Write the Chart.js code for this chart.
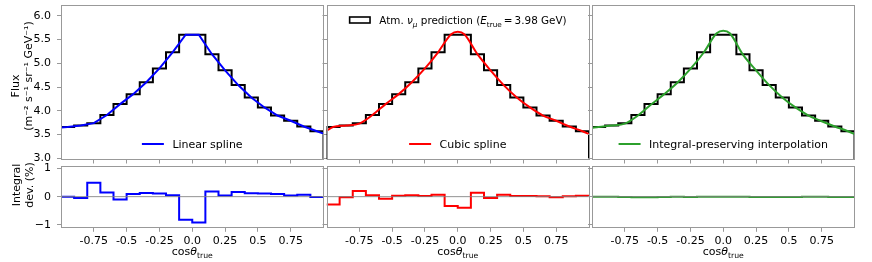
<!DOCTYPE html>
<html>
<head>
<meta charset="utf-8">
<script src="https://cdn.jsdelivr.net/npm/chart.js@4.4.0/dist/chart.umd.min.js"></script>
<style>
  html, body { margin: 0; padding: 0; background: #fff; }
  #wrap { position: relative; width: 872px; height: 262px; overflow: hidden; }
  #wrap canvas { position: absolute; left: 0; top: 0; }
</style>
</head>
<body>
<div id="wrap">
  <canvas id="c0" width="872" height="262"></canvas>
  <canvas id="c1" width="872" height="262"></canvas>
  <canvas id="c2" width="872" height="262"></canvas>
  <canvas id="c3" width="872" height="262"></canvas>
  <canvas id="c4" width="872" height="262"></canvas>
  <canvas id="c5" width="872" height="262"></canvas>
</div>
<script>
// === Data ===
const binEdges = [-1.0, -0.9, -0.8, -0.7, -0.6, -0.5, -0.4, -0.3, -0.2, -0.1, 0.0,
                  0.1, 0.2, 0.3, 0.4, 0.5, 0.6, 0.7, 0.8, 0.9, 1.0];
const fluxHist = [3.66, 3.69, 3.74, 3.91, 4.14, 4.35, 4.60, 4.89, 5.23, 5.60,
                  5.60, 5.19, 4.85, 4.54, 4.28, 4.07, 3.90, 3.79, 3.67, 3.57];

const linX = [-1.0, -0.95, -0.85, -0.75, -0.65, -0.55, -0.45, -0.35, -0.25, -0.15, -0.05,
              0.05, 0.15, 0.25, 0.35, 0.45, 0.55, 0.65, 0.75, 0.85, 0.95, 1.0];
const linFlux = [3.65, 3.66, 3.69, 3.74, 3.91, 4.14, 4.35, 4.60, 4.89, 5.23, 5.60,
                 5.60, 5.19, 4.85, 4.54, 4.28, 4.07, 3.90, 3.79, 3.67, 3.57, 3.52];

const smoothX = [-1.0, -0.95, -0.85, -0.75, -0.65, -0.55, -0.45, -0.35, -0.25, -0.15, -0.05, 0.0,
                 0.05, 0.15, 0.25, 0.35, 0.45, 0.55, 0.65, 0.75, 0.85, 0.95, 1.0];
const cubicFlux = [3.58, 3.66, 3.69, 3.73, 3.91, 4.14, 4.35, 4.60, 4.89, 5.23, 5.61, 5.66,
                   5.61, 5.19, 4.85, 4.54, 4.28, 4.07, 3.90, 3.79, 3.67, 3.57, 3.51];
const integralFlux = [3.64, 3.66, 3.69, 3.73, 3.90, 4.13, 4.35, 4.59, 4.88, 5.22, 5.63, 5.685,
                      5.63, 5.18, 4.85, 4.54, 4.28, 4.07, 3.90, 3.78, 3.67, 3.57, 3.51];

const devLinear = [0.0, -0.05, 0.49, 0.15, -0.10, 0.09, 0.13, 0.11, 0.05, -0.82,
                   -0.91, 0.18, 0.04, 0.16, 0.12, 0.11, 0.09, 0.04, 0.07, -0.01];
const devCubic = [-0.28, -0.02, 0.20, 0.05, -0.07, 0.03, 0.05, 0.02, 0.07, -0.33,
                  -0.39, 0.14, -0.05, 0.07, 0.02, 0.02, 0.01, -0.02, 0.01, 0.03];
const devIntegral = [0.0, 0.0, -0.01, -0.02, -0.02, -0.01, 0.0, -0.01, 0.0, 0.0,
                     0.0, 0.0, -0.01, -0.01, -0.01, -0.01, 0.0, 0.0, -0.01, -0.01];

const xTickVals = [-0.75, -0.5, -0.25, 0.0, 0.25, 0.5, 0.75];
const xTickLabels = ['-0.75', '-0.5', '-0.25', '0.0', '0.25', '0.5', '0.75'];
const fluxTickVals = [3.0, 3.5, 4.0, 4.5, 5.0, 5.5, 6.0];
const fluxTickLabels = ['3.0', '3.5', '4.0', '4.5', '5.0', '5.5', '6.0'];
const devTickVals = [-1, 0, 1];
const devTickLabels = ['\u22121', '0', '1'];

// === Layout ===
const W = 872, H = 262;
const colLeft = [61, 326.5, 592], colW = 262.5;
const topRow = { top: 5, bottom: 159.5, min: 2.975, max: 6.225, vals: fluxTickVals, labels: fluxTickLabels };
const botRow = { top: 165.5, bottom: 227.8, min: -1.1, max: 1.1, vals: devTickVals, labels: devTickLabels };
const AX_W = 40, AX_H = 30;
const FRAME = '#999';
const FONT = '"DejaVu Sans", sans-serif';

Chart.defaults.font.family = FONT;
Chart.defaults.font.size = 11;
Chart.defaults.color = '#000';

// === Helpers ===
const pts = (xs, ys) => xs.map((x, i) => ({ x, y: ys[i] }));
const histPts = (vals, base) => [{ x: binEdges[0], y: base },
  ...vals.map((v, i) => ({ x: binEdges[i], y: v })),
  { x: binEdges[binEdges.length - 1], y: vals[vals.length - 1] },
  { x: binEdges[binEdges.length - 1], y: base }];
const stepPts = vals => [...vals.map((v, i) => ({ x: binEdges[i], y: v })),
  { x: binEdges[binEdges.length - 1], y: vals[vals.length - 1] }];

const segFont = (s, size) => `${s.it ? 'italic ' : ''}${s.sub ? size * 0.7 : size}px ${FONT}`;
function richWidth(ctx, segs, size) {
  let w = 0;
  segs.forEach(s => { ctx.font = segFont(s, size); w += ctx.measureText(s.t).width; });
  return w;
}
function drawRich(ctx, segs, x, y, align, size = 11) {
  let cx = align === 'center' ? x - richWidth(ctx, segs, size) / 2 : x;
  ctx.textAlign = 'left';
  ctx.textBaseline = 'alphabetic';
  segs.forEach(s => {
    ctx.font = segFont(s, size);
    ctx.fillText(s.t, cx, y + (s.sub ? size * 0.28 : 0));
    cx += ctx.measureText(s.t).width;
  });
}

// === Frame, legends and titles ===
const decor = {
  id: 'decor',
  afterDatasetsDraw(chart) {
    const { ctx, chartArea: a } = chart;
    ctx.save();
    ctx.strokeStyle = FRAME;
    ctx.lineWidth = 1;
    ctx.strokeRect(Math.round(a.left) + 0.5, Math.round(a.top) + 0.5,
      Math.round(a.right - a.left) - 1, Math.round(a.bottom - a.top) - 1);
    ctx.restore();
  },
  afterDraw(chart, args, o) {
    const { ctx, chartArea: a } = chart;
    const mid = (a.left + a.right) / 2;
    ctx.save();
    ctx.fillStyle = '#000';
    (o.legends || []).forEach(lg => {
      const size = lg.size || 11;
      const tw = richWidth(ctx, lg.segs, size);
      const x0 = mid - (22 + 8.5 + tw) / 2;
      if (lg.handle === 'box') {
        ctx.strokeStyle = lg.color;
        ctx.lineWidth = 1.6;
        ctx.strokeRect(x0 + 0.8, lg.y - 3, 20.4, 6);
      } else {
        ctx.strokeStyle = lg.color;
        ctx.lineWidth = 2;
        ctx.beginPath();
        ctx.moveTo(x0, lg.y);
        ctx.lineTo(x0 + 22, lg.y);
        ctx.stroke();
      }
      drawRich(ctx, lg.segs, x0 + 30.5, lg.y + 4, 'left', size);
    });
    if (o.xTitle) {
      drawRich(ctx, [{ t: 'cos' }, { t: '\u03b8', it: true }, { t: 'true', sub: true }], mid, 255, 'center');
    }
    if (o.yTitle) {
      ctx.font = `11px ${FONT}`;
      ctx.textAlign = 'center';
      ctx.textBaseline = 'middle';
      o.yTitle.lines.forEach((t, i) => {
        ctx.save();
        ctx.translate(o.yTitle.xs[i], o.yTitle.ys[i]);
        ctx.rotate(-Math.PI / 2);
        ctx.fillText(t, 0, 0);
        ctx.restore();
      });
    }
    ctx.restore();
  }
};

// === Chart factory ===
function makeChart(id, col, row, datasets, opts) {
  const L = colLeft[col], R = L + colW;
  return new Chart(document.getElementById(id), {
    type: 'line',
    data: { datasets },
    options: {
      responsive: false,
      animation: false,
      events: [],
      layout: { padding: { left: L - AX_W, right: W - R, top: row.top, bottom: H - row.bottom - AX_H } },
      scales: {
        x: {
          type: 'linear', min: -1, max: 1,
          afterBuildTicks: s => { s.ticks = xTickVals.map(v => ({ value: v })); },
          afterFit: s => { s.height = AX_H; s.paddingLeft = 0; s.paddingRight = 0; },
          grid: { drawOnChartArea: false, tickLength: 4, color: FRAME },
          border: { display: false },
          ticks: { display: !!opts.xLabels, autoSkip: false, maxRotation: 0, padding: 3,
                   callback: (v, i) => xTickLabels[i] }
        },
        y: {
          type: 'linear', min: row.min, max: row.max,
          afterBuildTicks: s => { s.ticks = row.vals.map(v => ({ value: v })); },
          afterFit: s => { s.width = AX_W; s.paddingTop = 0; s.paddingBottom = 0; },
          grid: { drawOnChartArea: false, tickLength: 4, color: FRAME },
          border: { display: false },
          ticks: { display: !!opts.yLabels, padding: 6, callback: (v, i) => row.labels[i] }
        }
      },
      plugins: {
        legend: { display: false },
        tooltip: { enabled: false },
        decor: opts.decor || {}
      }
    },
    plugins: [decor]
  });
}

const histSet = () => ({ data: histPts(fluxHist, topRow.min), borderColor: '#000', borderWidth: 2,
  stepped: 'before', pointRadius: 0, fill: false });
const curveSet = (xs, ys, color, smooth) => ({ data: pts(xs, ys), borderColor: color, borderWidth: 2,
  pointRadius: 0, fill: false, tension: smooth ? 0.4 : 0, cubicInterpolationMode: smooth ? 'monotone' : 'default' });
const zeroSet = () => ({ data: [{ x: -1, y: 0 }, { x: 1, y: 0 }], borderColor: 'rgba(128,128,128,0.85)',
  borderWidth: 1, pointRadius: 0, fill: false });
const devSet = (vals, color) => ({ data: stepPts(vals), borderColor: color, borderWidth: 2,
  stepped: 'before', pointRadius: 0, fill: false });

const BLUE = '#0000ff', RED = '#ff0000', GREEN = '#2ca02c';
const histLegendSegs = [{ t: 'Atm. ' }, { t: '\u03bd', it: true }, { t: '\u03bc', it: true, sub: true },
  { t: ' prediction (' }, { t: 'E', it: true }, { t: 'true', sub: true }, { t: '\u2009=\u20093.98 GeV)' }];

// top row
makeChart('c0', 0, topRow, [curveSet(linX, linFlux, BLUE, false), histSet()], {
  yLabels: true,
  decor: {
    legends: [{ y: 144, handle: 'line', color: BLUE, segs: [{ t: 'Linear spline' }] }],
    yTitle: { lines: ['Flux', '(m\u207b\u00b2 s\u207b\u00b9 sr\u207b\u00b9 GeV\u207b\u00b9)'], xs: [16, 29], ys: [86, 76] }
  }
});
makeChart('c1', 1, topRow, [curveSet(smoothX, cubicFlux, RED, true), histSet()], {
  decor: {
    legends: [
      { y: 144, handle: 'line', color: RED, segs: [{ t: 'Cubic spline' }] },
      { y: 20, handle: 'box', color: '#000', segs: histLegendSegs, size: 10.4 }
    ]
  }
});
makeChart('c2', 2, topRow, [curveSet(smoothX, integralFlux, GREEN, true), histSet()], {
  decor: { legends: [{ y: 144, handle: 'line', color: GREEN, segs: [{ t: 'Integral-preserving interpolation' }] }] }
});

// bottom row
makeChart('c3', 0, botRow, [zeroSet(), devSet(devLinear, BLUE)], {
  xLabels: true, yLabels: true,
  decor: { xTitle: true, yTitle: { lines: ['Integral', 'dev. (%)'], xs: [17, 30], ys: [185, 185] } }
});
makeChart('c4', 1, botRow, [zeroSet(), devSet(devCubic, RED)], { xLabels: true, decor: { xTitle: true } });
makeChart('c5', 2, botRow, [zeroSet(), devSet(devIntegral, GREEN)], { xLabels: true, decor: { xTitle: true } });
</script>
</body>
</html>
